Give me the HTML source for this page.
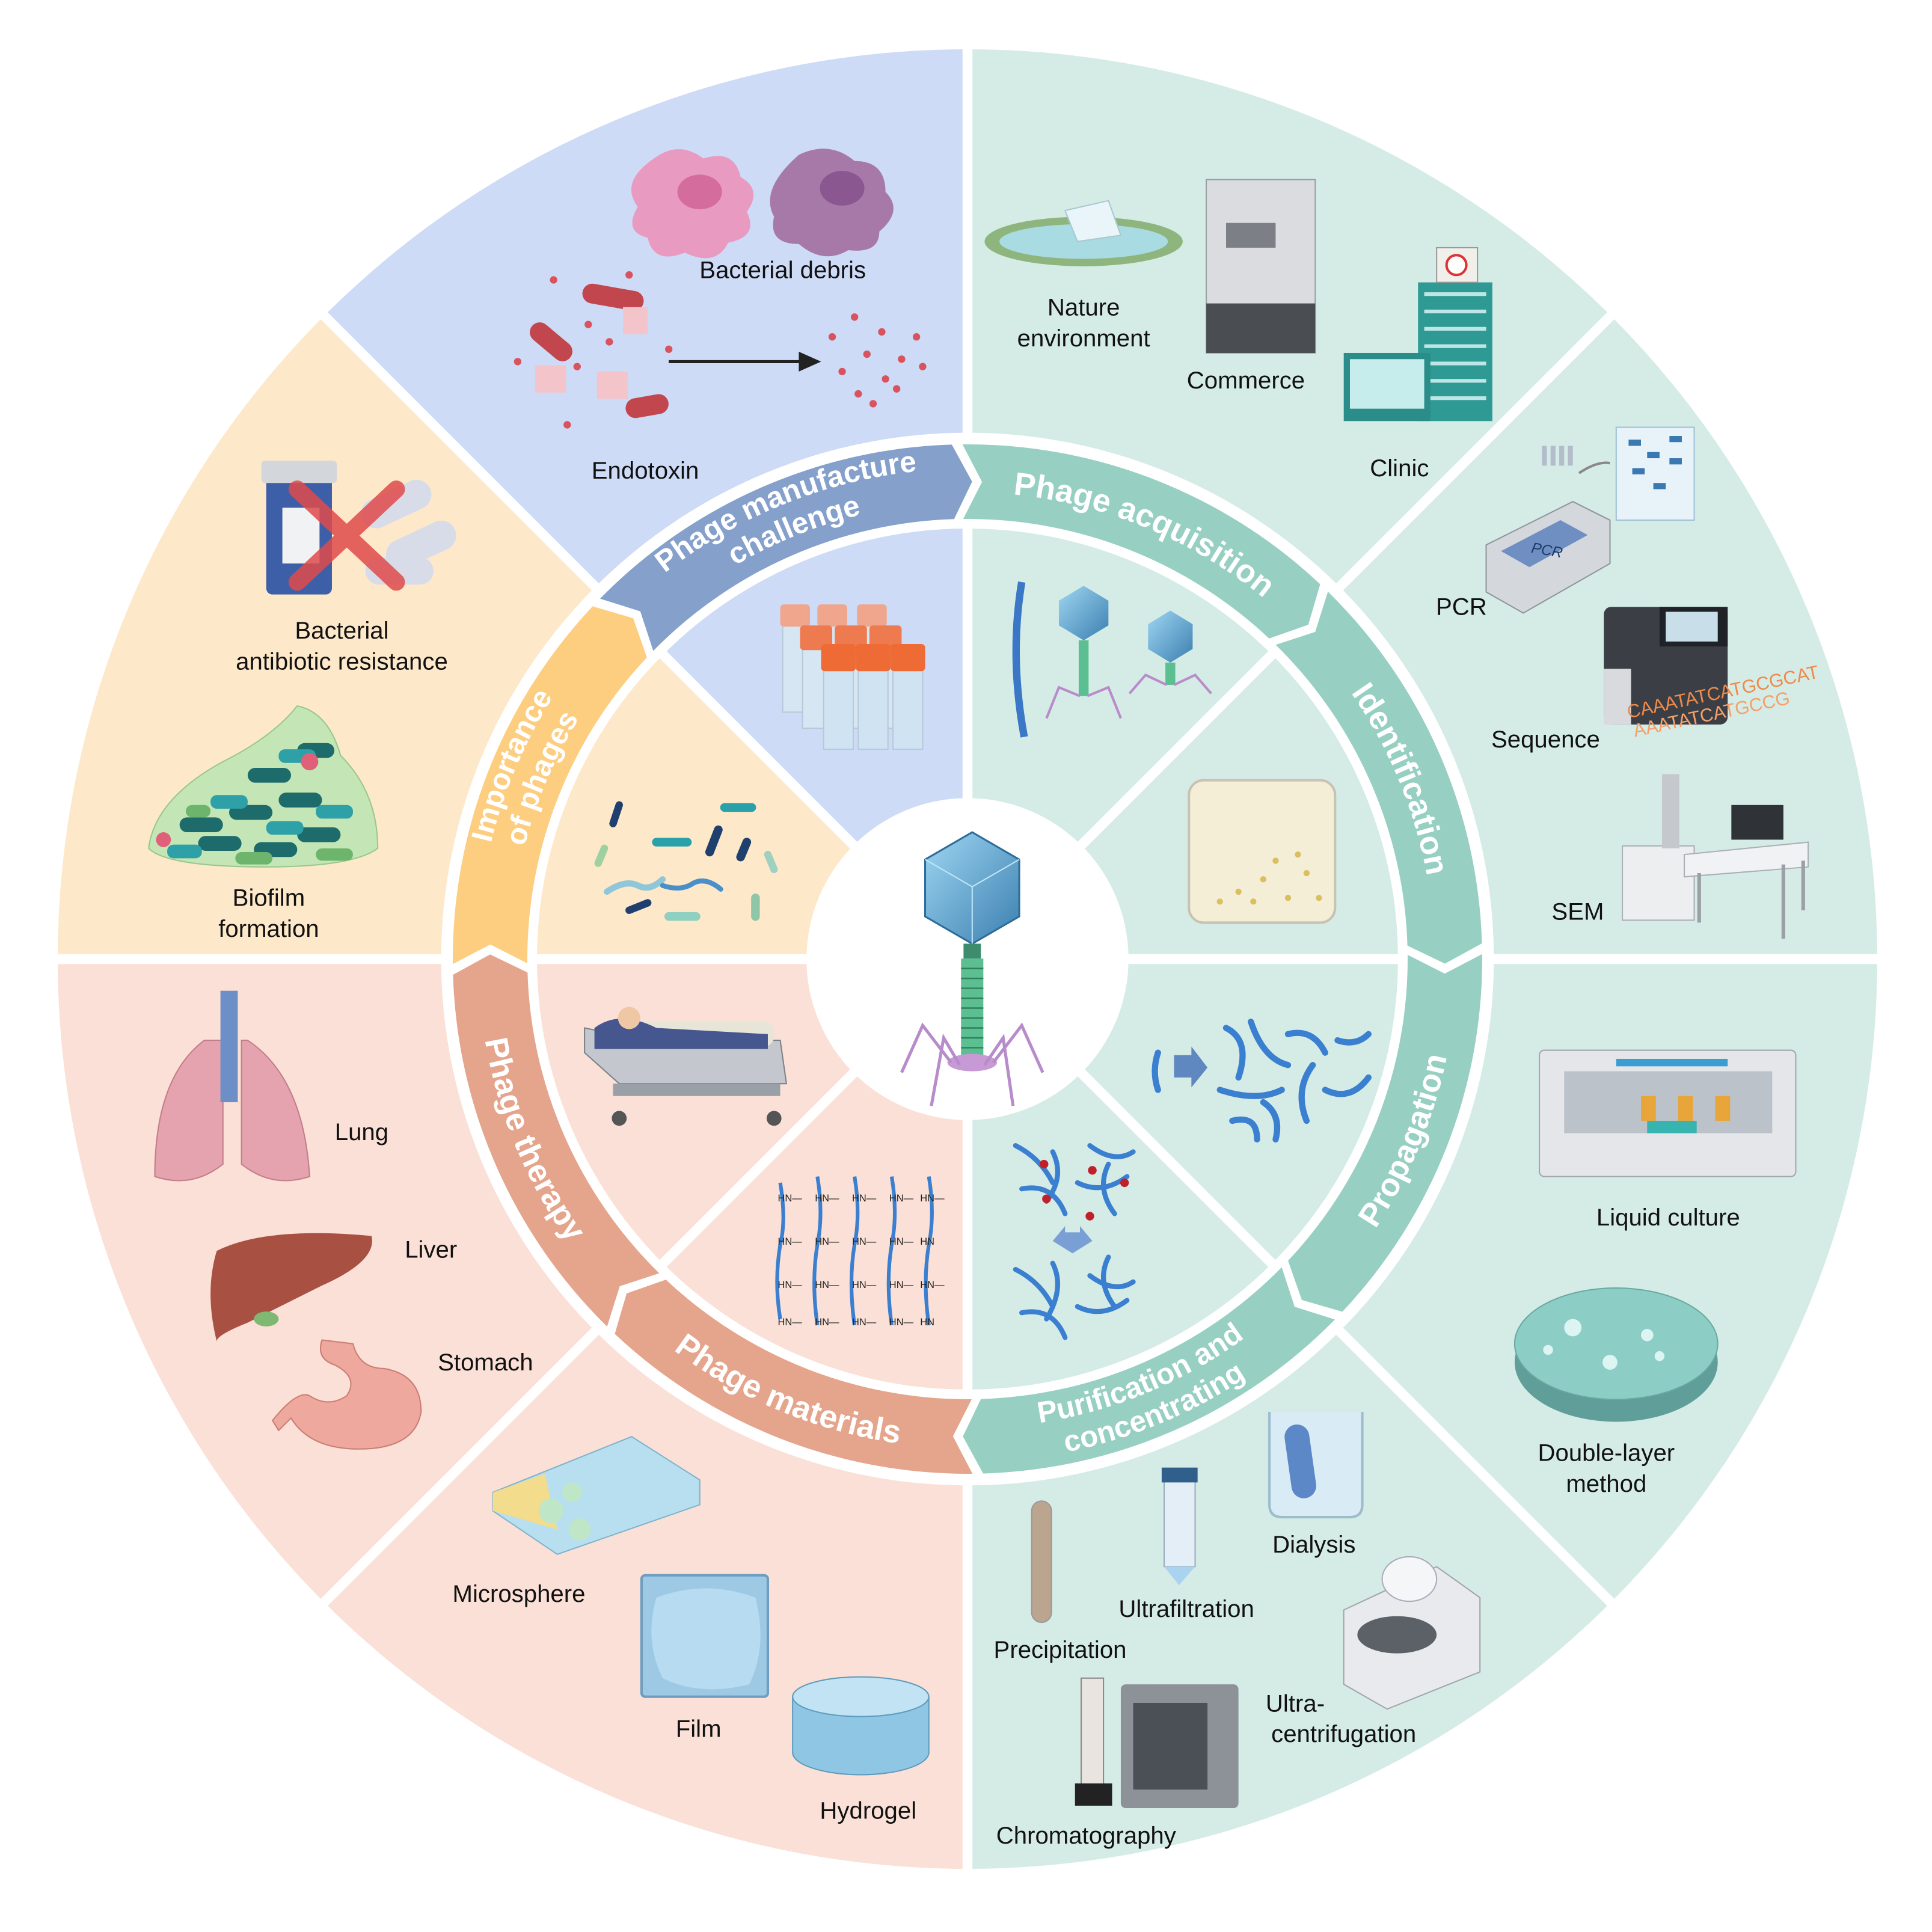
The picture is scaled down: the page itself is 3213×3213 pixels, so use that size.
<!DOCTYPE html>
<html><head><meta charset="utf-8">
<style>
html,body{margin:0;padding:0;background:#fff;}
svg{display:block;}
text{font-family:"Liberation Sans",Arial,sans-serif;}
.lb{font-size:19.5px;fill:#111;text-anchor:middle;dominant-baseline:central;}
.bd{font-size:26px;font-weight:bold;fill:#fff;}
.bd2{font-size:24px;font-weight:bold;fill:#fff;}
</style></head>
<body>
<svg id="s" width="3213" height="3213" viewBox="0 0 1560 1560" xmlns="http://www.w3.org/2000/svg">
<defs>
<linearGradient id="hg" x1="0" y1="0" x2="1" y2="1"><stop offset="0" stop-color="#9fd6f2"/><stop offset="1" stop-color="#3b7fb0"/></linearGradient>
</defs>
<g id="sectors"></g>
<g id="seps"></g>
<circle cx="781.2" cy="774.4" r="386.3" fill="none" stroke="#fff" stroke-width="77.4"/>
<g id="arrows"></g>
<g id="bandtext"></g>
<circle cx="781.2" cy="774.4" r="130" fill="#fff"/>

<!-- central phage -->
<g>
<polygon points="785,672 823,694 823,740 785,762 747,740 747,694" fill="url(#hg)" stroke="#2d6d99" stroke-width="1.5"/>
<polyline points="747,694 785,716 823,694 M785,716 785,762" fill="none" stroke="#bfe6f7" stroke-width="1"/>
<line x1="785" y1="716" x2="785" y2="762" stroke="#bfe6f7"/>
<rect x="778" y="762" width="14" height="12" fill="#3d8c6d"/>
<rect x="776" y="774" width="18" height="80" fill="#5cbf92"/>
<g stroke="#2f7f5d" stroke-width="1.2">
<line x1="776" y1="782" x2="794" y2="782"/><line x1="776" y1="790" x2="794" y2="790"/><line x1="776" y1="798" x2="794" y2="798"/><line x1="776" y1="806" x2="794" y2="806"/><line x1="776" y1="814" x2="794" y2="814"/><line x1="776" y1="822" x2="794" y2="822"/><line x1="776" y1="830" x2="794" y2="830"/><line x1="776" y1="838" x2="794" y2="838"/><line x1="776" y1="846" x2="794" y2="846"/>
</g>
<ellipse cx="785" cy="858" rx="20" ry="7" fill="#c79ad6"/>
<g stroke="#b88cca" stroke-width="2.5" fill="none">
<polyline points="768,858 745,828 728,866"/><polyline points="775,860 762,838 752,893"/><polyline points="795,860 810,838 818,893"/><polyline points="802,858 825,828 842,866"/>
</g>
</g>

<!-- ===== Blue: manufacture challenge ===== -->
<g>
<path d="M528,128 q20,-15 40,0 q25,-8 30,15 q18,10 5,28 q10,20 -15,25 q-10,20 -35,8 q-25,10 -30,-12 q-20,-5 -8,-25 q-15,-20 13,-39z" fill="#e99ac0"/>
<ellipse cx="565" cy="155" rx="18" ry="14" fill="#d46d9d"/>
<path d="M645,125 q25,-12 45,5 q25,0 25,25 q15,15 -5,32 q0,18 -25,15 q-20,12 -40,-5 q-25,0 -20,-22 q-12,-22 20,-50z" fill="#a779a9"/>
<ellipse cx="680" cy="152" rx="18" ry="14" fill="#8a5790"/>
<rect x="470" y="232" width="50" height="16" rx="8" fill="#c1464e" transform="rotate(10 495 240)"/>
<rect x="425" y="268" width="40" height="16" rx="8" fill="#c1464e" transform="rotate(40 445 276)"/>
<rect x="505" y="320" width="35" height="16" rx="8" fill="#c1464e" transform="rotate(-10 522 328)"/>
<rect x="432" y="295" width="25" height="22" fill="#f3c5ca"/><rect x="482" y="300" width="25" height="22" fill="#f3c5ca"/><rect x="503" y="248" width="20" height="22" fill="#f3c5ca"/>
<g fill="#d9535f"><circle cx="447" cy="226" r="3"/><circle cx="475" cy="262" r="3"/><circle cx="492" cy="276" r="3"/><circle cx="466" cy="296" r="3"/><circle cx="458" cy="343" r="3"/><circle cx="540" cy="282" r="3"/><circle cx="418" cy="292" r="3"/><circle cx="508" cy="222" r="3"/>
<circle cx="690" cy="256" r="3"/><circle cx="712" cy="268" r="3"/><circle cx="740" cy="272" r="3"/><circle cx="672" cy="272" r="3"/><circle cx="700" cy="286" r="3"/><circle cx="728" cy="290" r="3"/><circle cx="680" cy="300" r="3"/><circle cx="715" cy="306" r="3"/><circle cx="745" cy="296" r="3"/><circle cx="693" cy="318" r="3"/><circle cx="705" cy="326" r="3"/><circle cx="724" cy="314" r="3"/></g>
<line x1="540" y1="292" x2="648" y2="292" stroke="#222" stroke-width="2.5"/>
<polygon points="645,284 663,292 645,300" fill="#222"/>
<text class="lb" x="632" y="218">Bacterial debris</text>
<text class="lb" x="521" y="380">Endotoxin</text>
<!-- tubes -->
<g>
<rect x="632" y="500" width="20" height="75" fill="#d7e6f3" stroke="#b7c9d9"/><rect x="662" y="500" width="20" height="75" fill="#d7e6f3" stroke="#b7c9d9"/><rect x="694" y="500" width="20" height="75" fill="#d7e6f3" stroke="#b7c9d9"/>
<rect x="630" y="488" width="24" height="18" rx="3" fill="#f0a68c"/><rect x="660" y="488" width="24" height="18" rx="3" fill="#f0a68c"/><rect x="692" y="488" width="24" height="18" rx="3" fill="#f0a68c"/>
<rect x="648" y="520" width="22" height="68" fill="#d7e6f3" stroke="#b7c9d9"/><rect x="676" y="520" width="22" height="68" fill="#d7e6f3" stroke="#b7c9d9"/><rect x="704" y="520" width="22" height="68" fill="#d7e6f3" stroke="#b7c9d9"/>
<rect x="646" y="505" width="26" height="20" rx="3" fill="#ee7a50"/><rect x="674" y="505" width="26" height="20" rx="3" fill="#ee7a50"/><rect x="702" y="505" width="26" height="20" rx="3" fill="#ee7a50"/>
<rect x="665" y="535" width="24" height="70" fill="#cfe3f3" stroke="#b7c9d9"/><rect x="693" y="535" width="24" height="70" fill="#cfe3f3" stroke="#b7c9d9"/><rect x="721" y="535" width="24" height="70" fill="#cfe3f3" stroke="#b7c9d9"/>
<rect x="663" y="520" width="28" height="22" rx="3" fill="#ef6b36"/><rect x="691" y="520" width="28" height="22" rx="3" fill="#ef6b36"/><rect x="719" y="520" width="28" height="22" rx="3" fill="#ef6b36"/>
</g>
</g>

<!-- ===== Green: acquisition ===== -->
<g>
<ellipse cx="875" cy="195" rx="80" ry="20" fill="#8fb57e"/>
<ellipse cx="875" cy="195" rx="68" ry="14" fill="#a9dbe3"/>
<polygon points="860,170 895,162 905,190 870,195" fill="#e9f5f8" stroke="#a8c8d0"/>
<text class="lb" x="875" y="248">Nature</text>
<text class="lb" x="875" y="273">environment</text>
<rect x="974" y="145" width="88" height="140" fill="#dadcdf" stroke="#9a9ea3"/>
<rect x="974" y="245" width="88" height="40" fill="#4a4d52"/>
<rect x="990" y="180" width="40" height="20" fill="#7c8086"/>
<text class="lb" x="1006" y="307">Commerce</text>
<rect x="1145" y="228" width="60" height="112" fill="#2f9a93"/>
<g fill="#bfe6e6"><rect x="1150" y="236" width="50" height="3"/><rect x="1150" y="250" width="50" height="3"/><rect x="1150" y="264" width="50" height="3"/><rect x="1150" y="278" width="50" height="3"/><rect x="1150" y="292" width="50" height="3"/><rect x="1150" y="306" width="50" height="3"/><rect x="1150" y="320" width="50" height="3"/></g>
<rect x="1160" y="200" width="33" height="28" fill="#f1efe9" stroke="#999"/>
<circle cx="1176" cy="214" r="8" fill="#fff" stroke="#d33" stroke-width="2"/>
<rect x="1085" y="285" width="70" height="55" fill="#2a8d8a"/>
<rect x="1090" y="290" width="60" height="40" fill="#c7ecec"/>
<text class="lb" x="1130" y="378">Clinic</text>
<!-- PCR etc -->
<polygon points="1200,440 1270,405 1300,420 1300,455 1230,495 1200,478" fill="#d4d8dd" stroke="#8f959c"/>
<polygon points="1212,445 1260,420 1282,432 1235,458" fill="#6f8fc2"/>
<text x="1236" y="446" font-size="12" fill="#1e3a6a" font-style="italic" transform="rotate(10 1236 446)">PCR</text>
<rect x="1305" y="345" width="63" height="75" fill="#e8f3f9" stroke="#9ec1d5"/>
<g fill="#3a78b2"><rect x="1315" y="355" width="10" height="5"/><rect x="1330" y="365" width="10" height="5"/><rect x="1348" y="352" width="10" height="5"/><rect x="1318" y="378" width="10" height="5"/><rect x="1348" y="370" width="10" height="5"/><rect x="1335" y="390" width="10" height="5"/></g>
<g fill="#b3bccb"><rect x="1245" y="360" width="4" height="16"/><rect x="1252" y="360" width="4" height="16"/><rect x="1259" y="360" width="4" height="16"/><rect x="1266" y="360" width="4" height="16"/></g>
<path d="M1275,382 q15,-10 25,-8" stroke="#888" fill="none" stroke-width="2"/>
<text class="lb" x="1180" y="490">PCR</text>
<rect x="1295" y="490" width="100" height="95" rx="6" fill="#3b3f45"/>
<rect x="1340" y="490" width="55" height="32" fill="#1f2226"/><rect x="1345" y="494" width="42" height="24" fill="#c8dfe9"/>
<rect x="1295" y="540" width="22" height="45" fill="#d8dadd"/>
<text x="1315" y="580" font-size="15" fill="#f08a4a" transform="rotate(-12 1315 580)">CAAATATCATGCGCAT</text>
<text x="1320" y="595" font-size="15" fill="#f5a06a" transform="rotate(-12 1320 595)">AAATATCATGCCG</text>
<text class="lb" x="1248" y="597">Sequence</text>
<rect x="1310" y="683" width="58" height="60" fill="#eceef0" stroke="#aab0b6"/>
<rect x="1342" y="625" width="14" height="60" fill="#c5c9ce"/>
<polygon points="1360,690 1460,680 1460,700 1360,708" fill="#f1f2f4" stroke="#aab0b6"/>
<rect x="1398" y="650" width="42" height="28" fill="#2f3338"/>
<g stroke="#9aa0a6" stroke-width="3"><line x1="1372" y1="705" x2="1372" y2="745"/><line x1="1440" y1="698" x2="1440" y2="758"/><line x1="1456" y1="695" x2="1456" y2="735"/></g>
<text class="lb" x="1274" y="736">SEM</text>
<!-- inner acquisition -->
<path d="M825,470 q-10,60 2,125" stroke="#3a77c7" stroke-width="6" fill="none"/>
<polygon points="875,473 895,485 895,505 875,517 855,505 855,485" fill="url(#hg)"/>
<rect x="871" y="517" width="8" height="45" fill="#5cbf92"/>
<g stroke="#b88cca" stroke-width="2" fill="none"><polyline points="872,562 855,555 845,580"/><polyline points="878,562 895,555 905,580"/></g>
<polygon points="945,493 963,504 963,524 945,535 927,524 927,504" fill="url(#hg)"/>
<rect x="941" y="535" width="8" height="18" fill="#5cbf92"/>
<g stroke="#b88cca" stroke-width="2" fill="none"><polyline points="942,553 925,545 912,560"/><polyline points="948,553 965,545 978,560"/></g>
<!-- plate -->
<rect x="960" y="630" width="118" height="115" rx="12" fill="#f5eed7" stroke="#c7c2b3" stroke-width="2"/>
<g fill="#d4b441" opacity="0.8"><circle cx="1000" cy="720" r="2.5"/><circle cx="1020" cy="710" r="2.5"/><circle cx="1040" cy="725" r="2.5"/><circle cx="1055" cy="705" r="2.5"/><circle cx="1030" cy="695" r="2.5"/><circle cx="985" cy="728" r="2.5"/><circle cx="1065" cy="725" r="2.5"/><circle cx="1012" cy="728" r="2.5"/><circle cx="1048" cy="690" r="2.5"/></g>
</g>

<!-- ===== Propagation ===== -->
<g>
<rect x="1243" y="848" width="207" height="102" rx="4" fill="#e4e6e9" stroke="#a2a7ad"/>
<rect x="1263" y="865" width="168" height="50" fill="#bcc2c9"/>
<rect x="1305" y="855" width="90" height="6" fill="#3b9ed2"/>
<g fill="#e8a53a"><rect x="1325" y="885" width="12" height="20"/><rect x="1355" y="885" width="12" height="20"/><rect x="1385" y="885" width="12" height="20"/></g>
<rect x="1330" y="905" width="40" height="10" fill="#37b3b0"/>
<text class="lb" x="1347" y="983">Liquid culture</text>
<ellipse cx="1305" cy="1100" rx="82" ry="48" fill="#5f9e99"/>
<ellipse cx="1305" cy="1085" rx="82" ry="45" fill="#8ccdc6" stroke="#6aa8a2"/>
<g fill="#dcf4f2"><circle cx="1270" cy="1072" r="7"/><circle cx="1330" cy="1078" r="5"/><circle cx="1300" cy="1100" r="6"/><circle cx="1340" cy="1095" r="4"/><circle cx="1250" cy="1090" r="4"/></g>
<text class="lb" x="1297" y="1173">Double-layer</text>
<text class="lb" x="1297" y="1198">method</text>
<g stroke="#3a7fd0" stroke-width="5" fill="none" stroke-linecap="round">
<path d="M935,850 q-5,15 0,30"/>
<path d="M990,830 q20,10 10,40"/><path d="M1010,825 q10,30 30,35"/><path d="M1040,835 q20,-5 30,15"/><path d="M1060,860 q-15,20 -5,45"/><path d="M985,880 q30,10 50,0"/><path d="M1020,890 q15,10 10,30"/><path d="M1070,880 q20,10 35,-10"/><path d="M995,905 q20,-5 20,15"/><path d="M1080,840 q15,5 25,-5"/>
</g>
<polygon points="948,852 962,852 962,845 975,862 962,878 962,870 948,870" fill="#5f87c0"/>
</g>

<!-- ===== Purification ===== -->
<g>
<g stroke="#3a7fd0" stroke-width="4" fill="none" stroke-linecap="round">
<path d="M820,925 q20,10 30,30"/><path d="M850,930 q10,20 -5,40"/><path d="M880,925 q20,15 35,5"/><path d="M825,960 q25,-5 35,20"/><path d="M870,955 q20,10 40,-5"/><path d="M895,940 q-10,20 5,40"/>
<path d="M820,1025 q20,10 30,30"/><path d="M850,1020 q10,20 -5,45"/><path d="M880,1030 q20,15 35,5"/><path d="M825,1060 q25,-5 35,20"/><path d="M870,1055 q20,10 40,-5"/><path d="M895,1015 q-10,20 5,40"/>
</g>
<g fill="#c0202a"><circle cx="843" cy="940" r="3.5"/><circle cx="882" cy="945" r="3.5"/><circle cx="908" cy="955" r="3.5"/><circle cx="845" cy="968" r="3.5"/><circle cx="880" cy="982" r="3.5"/></g>
<polygon points="860,995 872,995 872,990 882,1002 866,1012 850,1002 860,990" fill="#7a9fd5"/>
<path d="M1025,1140 l0,75 q0,10 10,10 l55,0 q10,0 10,-10 l0,-75" fill="#d9ecf5" stroke="#9dbccc" stroke-width="2"/>
<rect x="1040" y="1150" width="20" height="60" rx="10" fill="#5c88c8" transform="rotate(-8 1050 1180)"/>
<text class="lb" x="1061" y="1247">Dialysis</text>
<rect x="940" y="1190" width="25" height="75" fill="#e3eef7" stroke="#9ab"/>
<rect x="938" y="1185" width="29" height="12" fill="#2f5f8a"/>
<polygon points="940,1265 965,1265 952,1280" fill="#a9d3ef"/>
<text class="lb" x="958" y="1299">Ultrafiltration</text>
<rect x="833" y="1212" width="16" height="98" rx="8" fill="#bba58f" stroke="#999"/>
<text class="lb" x="856" y="1332">Precipitation</text>
<polygon points="1085,1300 1160,1265 1195,1290 1195,1350 1120,1380 1085,1360" fill="#e8eaed" stroke="#a0a6ac"/>
<ellipse cx="1128" cy="1320" rx="32" ry="15" fill="#5c6168"/>
<ellipse cx="1138" cy="1275" rx="22" ry="18" fill="#f5f6f7" stroke="#aab"/>
<text x="1022" y="1382" font-size="19.5" fill="#111">Ultra-</text>
<text class="lb" x="1085" y="1400">centrifugation</text>
<rect x="905" y="1360" width="95" height="100" rx="4" fill="#8d9298"/>
<rect x="915" y="1375" width="60" height="70" fill="#4b5056"/>
<rect x="873" y="1355" width="18" height="90" fill="#e9e4df" stroke="#888"/>
<rect x="868" y="1440" width="30" height="18" fill="#222"/>
<text class="lb" x="877" y="1482">Chromatography</text>
</g>

<!-- ===== Pink: materials ===== -->
<g>
<polygon points="398,1205 510,1160 565,1195 565,1215 450,1255 398,1220" fill="#b7dff0" stroke="#7fb4cc"/>
<polygon points="398,1205 440,1190 450,1235 398,1220" fill="#f3dc8b"/>
<circle cx="445" cy="1220" r="10" fill="#bfe6c6"/><circle cx="468" cy="1235" r="9" fill="#bfe6c6"/><circle cx="462" cy="1205" r="8" fill="#bfe6c6"/>
<text class="lb" x="419" y="1287">Microsphere</text>
<rect x="518" y="1272" width="102" height="98" rx="3" fill="#9ec9e5" stroke="#6d9ebf" stroke-width="2"/>
<path d="M530,1290 q40,-15 80,0 q10,40 -5,70 q-40,10 -70,-5 q-15,-30 -5,-65z" fill="#b7dbf0"/>
<text class="lb" x="564" y="1396">Film</text>
<path d="M640,1370 l0,45 a55,18 0 0 0 110,0 l0,-45" fill="#8fc6e3" stroke="#5e9bbd"/>
<ellipse cx="695" cy="1370" rx="55" ry="16" fill="#c2e3f3" stroke="#5e9bbd"/>
<text class="lb" x="701" y="1462">Hydrogel</text>
<!-- hydrogel network -->
<g stroke="#3b7fd0" stroke-width="3" fill="none">
<path d="M630,955 q5,30 0,50 q-5,30 0,60"/><path d="M660,950 q5,30 0,55 q-5,30 0,65"/><path d="M690,950 q5,30 0,55 q-5,30 0,65"/><path d="M720,950 q5,30 0,55 q-5,30 0,65"/><path d="M750,950 q5,30 0,55 q-5,30 0,65"/>
</g>
<g font-size="8" fill="#222"><text x="628" y="970">HN—</text><text x="658" y="970">HN—</text><text x="688" y="970">HN—</text><text x="718" y="970">HN—</text><text x="743" y="970">HN—</text>
<text x="628" y="1005">HN—</text><text x="658" y="1005">HN—</text><text x="688" y="1005">HN—</text><text x="718" y="1005">HN—</text><text x="743" y="1005">HN</text>
<text x="628" y="1040">HN—</text><text x="658" y="1040">HN—</text><text x="688" y="1040">HN—</text><text x="718" y="1040">HN—</text><text x="743" y="1040">HN—</text>
<text x="628" y="1070">HN—</text><text x="658" y="1070">HN—</text><text x="688" y="1070">HN—</text><text x="718" y="1070">HN—</text><text x="743" y="1070">HN</text></g>
<!-- bed -->
<polygon points="472,830 520,840 630,840 635,875 500,875 472,850" fill="#c4c8ce" stroke="#7b8189"/>
<rect x="485" y="825" width="140" height="20" rx="8" fill="#e7e4d8"/>
<path d="M480,830 q20,-15 50,0 l90,5 l0,12 l-140,0z" fill="#46568f"/>
<circle cx="508" cy="822" r="9" fill="#f0c7a4"/>
<circle cx="500" cy="903" r="6" fill="#555"/><circle cx="625" cy="903" r="6" fill="#555"/>
<rect x="495" y="875" width="135" height="10" fill="#9aa0a8"/>
</g>

<!-- ===== Therapy organs ===== -->
<g>
<path d="M165,840 q-40,30 -40,110 q30,10 55,-10 l0,-100z" fill="#e4a3ae" stroke="#c47d8a"/>
<path d="M200,840 q45,30 50,110 q-30,10 -55,-10 l0,-100z" fill="#e4a3ae" stroke="#c47d8a"/>
<rect x="178" y="800" width="14" height="90" fill="#6d8fc8"/>
<text class="lb" x="292" y="914">Lung</text>
<path d="M175,1010 q40,-20 125,-12 q5,20 -40,40 q-40,20 -60,30 q-25,10 -25,15 q-10,-40 0,-73z" fill="#a85143"/>
<ellipse cx="215" cy="1065" rx="10" ry="6" fill="#7fb872"/>
<text class="lb" x="348" y="1009">Liver</text>
<path d="M285,1085 q5,20 25,20 q30,5 30,35 q-5,30 -50,30 q-40,0 -55,-25 l-10,10 l-5,-8 q20,-25 30,-20 q15,10 30,0 q10,-15 -10,-25 q-15,-5 -10,-20z" fill="#efa89e" stroke="#c97e74"/>
<text class="lb" x="392" y="1100">Stomach</text>
</g>

<!-- ===== Orange ===== -->
<g>
<rect x="215" y="385" width="53" height="95" rx="5" fill="#3d5fa8"/>
<rect x="211" y="372" width="61" height="18" rx="3" fill="#d3d7dc"/>
<rect x="228" y="410" width="30" height="45" fill="#f1f2f4"/>
<rect x="290" y="395" width="60" height="24" rx="12" fill="#d7dce8" transform="rotate(-25 320 407)"/>
<rect x="310" y="428" width="60" height="24" rx="12" fill="#d7dce8" transform="rotate(-25 340 440)"/>
<rect x="295" y="450" width="55" height="22" rx="11" fill="#d7dce8"/>
<g stroke="#e04b4b" stroke-width="14" stroke-linecap="round" opacity="0.85"><line x1="240" y1="395" x2="320" y2="470"/><line x1="320" y1="395" x2="240" y2="470"/></g>
<text class="lb" x="276" y="509">Bacterial</text>
<text class="lb" x="276" y="534">antibiotic resistance</text>
<path d="M120,685 q5,-40 60,-70 q40,-20 60,-45 q25,5 35,40 q30,30 30,75 q-20,15 -90,15 q-80,0 -95,-15z" fill="#c4e5b5" stroke="#98c88a"/>
<g fill="#1d6b6b"><rect x="145" y="660" width="35" height="12" rx="6"/><rect x="185" y="650" width="35" height="12" rx="6"/><rect x="225" y="640" width="35" height="12" rx="6"/><rect x="160" y="675" width="35" height="12" rx="6"/><rect x="205" y="680" width="35" height="12" rx="6"/><rect x="240" y="668" width="35" height="12" rx="6"/><rect x="200" y="620" width="35" height="12" rx="6"/><rect x="240" y="600" width="30" height="12" rx="6"/></g>
<g fill="#2da0a8"><rect x="170" y="642" width="30" height="11" rx="5"/><rect x="215" y="663" width="30" height="11" rx="5"/><rect x="255" y="650" width="30" height="11" rx="5"/><rect x="135" y="682" width="28" height="11" rx="5"/><rect x="225" y="605" width="30" height="11" rx="5"/></g>
<g fill="#6db56c"><rect x="190" y="688" width="30" height="10" rx="5"/><rect x="255" y="685" width="30" height="10" rx="5"/><rect x="150" y="650" width="20" height="10" rx="5"/></g>
<circle cx="250" cy="615" r="7" fill="#e0607a"/><circle cx="132" cy="678" r="6" fill="#e0607a"/>
<text class="lb" x="217" y="725">Biofilm</text>
<text class="lb" x="217" y="750">formation</text>
<!-- bacteria inner -->
<g stroke-linecap="round" fill="none">
<path d="M500,650 l-5,15" stroke="#1f3f6e" stroke-width="6"/><path d="M580,670 l-7,18" stroke="#1f3f6e" stroke-width="7"/><path d="M603,680 l-5,12" stroke="#1f3f6e" stroke-width="7"/><path d="M508,735 l15,-6" stroke="#1f3f6e" stroke-width="6"/>
<path d="M530,680 l25,0" stroke="#2aa0a8" stroke-width="7"/><path d="M585,652 l22,0" stroke="#2aa0a8" stroke-width="7"/><path d="M610,725 l0,15" stroke="#8fc6a8" stroke-width="7"/>
<path d="M490,720 q15,-10 25,-5 q10,5 20,-5" stroke="#8fc6d8" stroke-width="5"/><path d="M535,715 q15,5 25,-2 q10,-5 22,5" stroke="#4a8fc8" stroke-width="4"/>
<path d="M540,740 l22,0" stroke="#8fd0c0" stroke-width="7"/><path d="M488,685 l-5,12" stroke="#9fd0a0" stroke-width="6"/><path d="M620,690 l5,12" stroke="#9fd0c0" stroke-width="6"/>
</g>
</g>

<!-- outer labels not yet covered -->
<script>
(function(){
var NS="http://www.w3.org/2000/svg",cx=781.2,cy=774.4,R=734.6;
function P(r,d){var a=d*Math.PI/180;return [cx+r*Math.cos(a),cy+r*Math.sin(a)];}
function f(p){return p[0].toFixed(2)+","+p[1].toFixed(2);}
function el(t,a,par){var e=document.createElementNS(NS,t);for(var k in a)e.setAttribute(k,a[k]);par.appendChild(e);return e;}
var sec=document.getElementById("sectors"),seps=document.getElementById("seps"),arr=document.getElementById("arrows"),bt=document.getElementById("bandtext");
// colors per wedge starting at angle k*45
var oc=["#d5ece6","#d5ece6","#fae0d6","#fae0d6","#fde8c9","#cddbf6","#d5ece6","#d5ece6"];
var bc=["#97d0c2","#97d0c2","#e5a58c","#e5a58c","#fdcd80","#84a0cb","#97d0c2","#97d0c2"];
for(var k=0;k<8;k++){var a=k*45,b=a+45;
 el("path",{d:"M"+cx+","+cy+" L"+f(P(R,a))+" A"+R+","+R+" 0 0 1 "+f(P(R,b))+" Z",fill:oc[k]},sec);
 // sliver overlap fix
}
// re-draw pie order so inner sectors start at center; separators
for(var k=0;k<8;k++){var p=P(R+10,k*45);el("line",{x1:cx,y1:cy,x2:p[0],y2:p[1],stroke:"#fff","stroke-width":8},seps);}
var ri=355.4,ro=415.6,rm=385.5,g=1.19,d=2.3;
for(var k=0;k<8;k++){var A=k*45,B=A+45;
 var s=A+g/2-d/2, e=B-g/2-d/2;
 var path="M"+f(P(ro,s))+" A"+ro+","+ro+" 0 0 1 "+f(P(ro,e))+" L"+f(P(rm,e+d))+" L"+f(P(ri,e))+" A"+ri+","+ri+" 0 0 0 "+f(P(ri,s))+" L"+f(P(rm,s+d))+" Z";
 el("path",{d:path,fill:bc[k]},arr);
}
var id=0;
function label(txt,mid,r,cw,cls){
 id++;var pid="tp"+id,dd;
 if(cw) dd="M"+f(P(r,mid-80))+" A"+r+","+r+" 0 0 1 "+f(P(r,mid+80));
 else dd="M"+f(P(r,mid+80))+" A"+r+","+r+" 0 0 0 "+f(P(r,mid-80));
 el("path",{id:pid,d:dd,fill:"none"},bt);
 var t=el("text",{"class":cls,"text-anchor":"middle"},bt);
 var tp=el("textPath",{href:"#"+pid,startOffset:"50%"},t);
 tp.setAttributeNS("http://www.w3.org/1999/xlink","xlink:href","#"+pid);
 tp.textContent=txt;
}
label("Phage manufacture",248,396,true,"bd2");
label("challenge",248,369,true,"bd2");
label("Importance",203,396,true,"bd2");
label("of phages",203,369,true,"bd2");
label("Phage acquisition",292.5,377,true,"bd");
label("Identification",337.5,377,true,"bd");
label("Propagation",22.5,395,false,"bd");
label("Purification and",67.5,379,false,"bd2");
label("concentrating",67.5,406,false,"bd2");
label("Phage materials",112.5,395,false,"bd");
label("Phage therapy",157.5,395,false,"bd");
})();
</script>
</svg>
</body></html>
